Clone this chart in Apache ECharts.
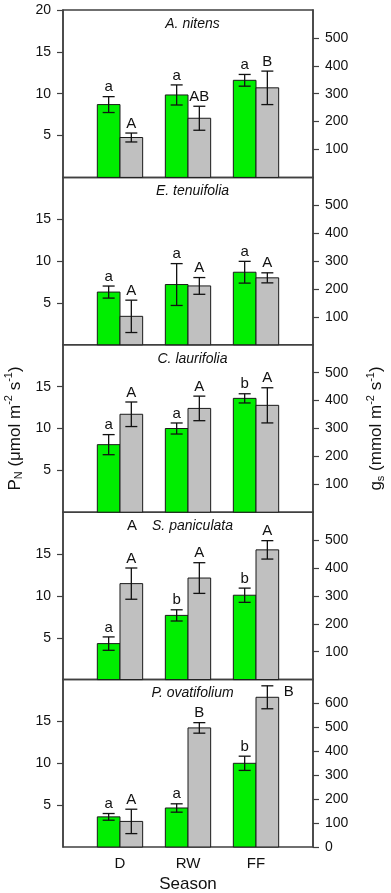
<!DOCTYPE html>
<html>
<head>
<meta charset="utf-8">
<script src="https://cdn.jsdelivr.net/npm/echarts@6/dist/echarts.min.js"></script>
<style>
html,body{margin:0;padding:0;background:#fff;}
#chart{width:391px;height:893px;}
</style>
</head>
<body>
<div id="chart"></div>
<script>
const categories = ['D', 'RW', 'FF'];
const species = ['A. nitens', 'E. tenuifolia', 'C. laurifolia', 'S. paniculata', 'P. ovatifolium'];

const pnValues = [[8.7, 9.85, 11.6], [6.3, 7.2, 8.67], [8.07, 10.0, 13.6], [4.3, 7.67, 10.08], [3.6, 4.66, 10.0]];
const pnErrors = [[0.95, 1.2, 0.7], [0.72, 2.5, 1.3], [1.2, 0.66, 0.55], [0.8, 0.67, 0.85], [0.4, 0.5, 0.85]];
const gsValues = [[143, 212, 321], [102, 211, 240], [351, 372, 383], [344, 364, 465], [107, 498, 626]];
const gsErrors = [[16, 43, 60], [58, 30, 18], [44, 44, 63], [56, 55, 33], [51, 22, 48]];
const pnLetters = [['a', 'a', 'a'], ['a', 'a', 'a'], ['a', 'a', 'b'], ['a', 'b', 'b'], ['a', 'a', 'b']];
const gsLetters = [['A', 'AB', 'B'], ['A', 'A', 'A'], ['A', 'A', 'A'], ['A', 'A', 'A'], ['A', 'B', 'B']];

const pnMax = 20;
const gsMax = [600, 600, 600, 600, 700];
const pnTickLabels = [[5, 10, 15, 20], [5, 10, 15], [5, 10, 15], [5, 10, 15], [5, 10, 15]];
const gsTickLabels = [
  [100, 200, 300, 400, 500], [100, 200, 300, 400, 500], [100, 200, 300, 400, 500],
  [100, 200, 300, 400, 500], [0, 100, 200, 300, 400, 500, 600]
];
const extraLetter = { panel: 3, text: 'A' };

const FONT = '"Liberation Sans", Arial, sans-serif';
const AXIS_COLOR = '#404040';
const GREEN = '#00ee00';
const GRAY = '#c0c0c0';

const chart = echarts.init(document.getElementById('chart'), null, { renderer: 'canvas' });

const N = species.length;
const PANEL_TOP = 10, PANEL_H = 167.4, LEFT = 63, RIGHT = 78;

const grids = [], xAxes = [], yAxes = [], series = [], graphics = [];

function makeRender(p, isGreen) {
  const letters = isGreen ? pnLetters[p] : gsLetters[p];
  return function (params, api) {
    const i = api.value(0), v = api.value(1), e = api.value(2);
    const base = api.coord([i, 0]);
    const top = api.coord([i, v]);
    const bw = api.size([1, 0])[0] / 3;
    const x0 = isGreen ? base[0] - bw : base[0];
    const cx = x0 + bw / 2;
    const hi = api.coord([i, v + e])[1];
    const lo = api.coord([i, v - e])[1];
    const cap = 6;
    const cs = params.coordSys;
    const children = [
      { type: 'rect', shape: { x: x0, y: top[1], width: bw, height: base[1] - top[1] },
        style: { fill: isGreen ? GREEN : GRAY, stroke: '#1a1a1a', lineWidth: 1 } },
      { type: 'line', shape: { x1: cx, y1: hi, x2: cx, y2: lo }, style: { stroke: '#111', lineWidth: 1.3 } },
      { type: 'line', shape: { x1: cx - cap, y1: hi, x2: cx + cap, y2: hi }, style: { stroke: '#111', lineWidth: 1.3 } },
      { type: 'line', shape: { x1: cx - cap, y1: lo, x2: cx + cap, y2: lo }, style: { stroke: '#111', lineWidth: 1.3 } }
    ];
    const letter = letters[params.dataIndex];
    if (hi - 18 < cs.y) {
      children.push({ type: 'text', style: { text: letter, x: x0 + bw + 5, y: hi + 6,
        align: 'left', verticalAlign: 'middle', font: '15px ' + FONT, fill: '#111' } });
    } else {
      children.push({ type: 'text', style: { text: letter, x: cx, y: hi - 2,
        align: 'center', verticalAlign: 'bottom', font: '15px ' + FONT, fill: '#111' } });
    }
    return { type: 'group', children };
  };
}

const richTitle = {
  base: { fontSize: 17, fontFamily: FONT, color: '#111' },
  sub: { fontSize: 11, fontFamily: FONT, color: '#111', padding: [8, 0, 0, 0] },
  sup: { fontSize: 11, fontFamily: FONT, color: '#111', padding: [0, 0, 12, 0] }
};

for (let p = 0; p < N; p++) {
  const top = PANEL_TOP + p * PANEL_H;
  grids.push({ left: LEFT, right: RIGHT, top: top, height: PANEL_H, show: true,
    outerBoundsMode: 'none', containLabel: false,
    borderColor: AXIS_COLOR, borderWidth: 1.5, backgroundColor: 'transparent' });
  const isLast = p === N - 1;
  xAxes.push({
    type: 'value', gridIndex: p, min: -0.838, max: 2.838,
    axisLine: { show: false, onZero: false }, axisTick: { show: false }, splitLine: { show: false },
    axisLabel: {
      show: isLast, customValues: [0, 1, 2], margin: 9,
      formatter: v => categories[Math.round(v)] || '',
      fontSize: 15, fontFamily: FONT, color: '#111'
    },
    name: isLast ? 'Season' : '', nameLocation: 'middle', nameGap: 29,
    nameTextStyle: { fontSize: 17, fontFamily: FONT, color: '#111' }
  });
  const mid = p === 2;
  yAxes.push({
    type: 'value', gridIndex: p, position: 'left', min: 0, max: pnMax,
    axisLine: { show: true, onZero: false, lineStyle: { color: AXIS_COLOR, width: 1.5 } },
    splitLine: { show: false },
    axisTick: { show: true, customValues: pnTickLabels[p], length: 6, lineStyle: { color: AXIS_COLOR, width: 1.2 } },
    axisLabel: { customValues: pnTickLabels[p], margin: 12, fontSize: 14, fontFamily: FONT, color: '#111' },
    name: mid ? '{base|P}{sub|N}{base| (μmol m}{sup|-2}{base| s}{sup|-1}{base|)}' : '',
    nameLocation: 'middle', nameGap: 36, nameRotate: 90,
    nameTextStyle: { rich: richTitle }
  });
  yAxes.push({
    type: 'value', gridIndex: p, position: 'right', min: 0, max: gsMax[p],
    axisLine: { show: true, onZero: false, lineStyle: { color: AXIS_COLOR, width: 1.5 } },
    splitLine: { show: false },
    axisTick: { show: true, customValues: gsTickLabels[p], length: 6, lineStyle: { color: AXIS_COLOR, width: 1.2 } },
    axisLabel: { customValues: gsTickLabels[p], margin: 12, fontSize: 14, fontFamily: FONT, color: '#111' },
    name: mid ? '{base|g}{sub|s}{base| (mmol m}{sup|-2}{base| s}{sup|-1}{base|)}' : '',
    nameLocation: 'middle', nameGap: 52, nameRotate: 90,
    nameTextStyle: { rich: richTitle }
  });
  series.push({
    type: 'custom', xAxisIndex: p, yAxisIndex: 2 * p,
    data: pnValues[p].map((v, i) => [i, v, pnErrors[p][i]]),
    encode: { x: 0, y: 1 },
    renderItem: makeRender(p, true)
  });
  series.push({
    type: 'custom', xAxisIndex: p, yAxisIndex: 2 * p + 1,
    data: gsValues[p].map((v, i) => [i, v, gsErrors[p][i]]),
    encode: { x: 0, y: 1 },
    renderItem: makeRender(p, false)
  });
  graphics.push({ type: 'text', x: 192.5, y: top + 14,
    style: { text: species[p], align: 'center', verticalAlign: 'middle',
      font: 'italic 14px ' + FONT, fill: '#111' } });
  if (p === extraLetter.panel) {
    graphics.push({ type: 'text', x: 132, y: top + 14,
      style: { text: extraLetter.text, align: 'center', verticalAlign: 'middle',
        font: '15px ' + FONT, fill: '#111' } });
  }
}

chart.setOption({
  animation: false,
  backgroundColor: '#fff',
  grid: grids,
  xAxis: xAxes,
  yAxis: yAxes,
  series: series,
  graphic: graphics
});
</script>
</body>
</html>
